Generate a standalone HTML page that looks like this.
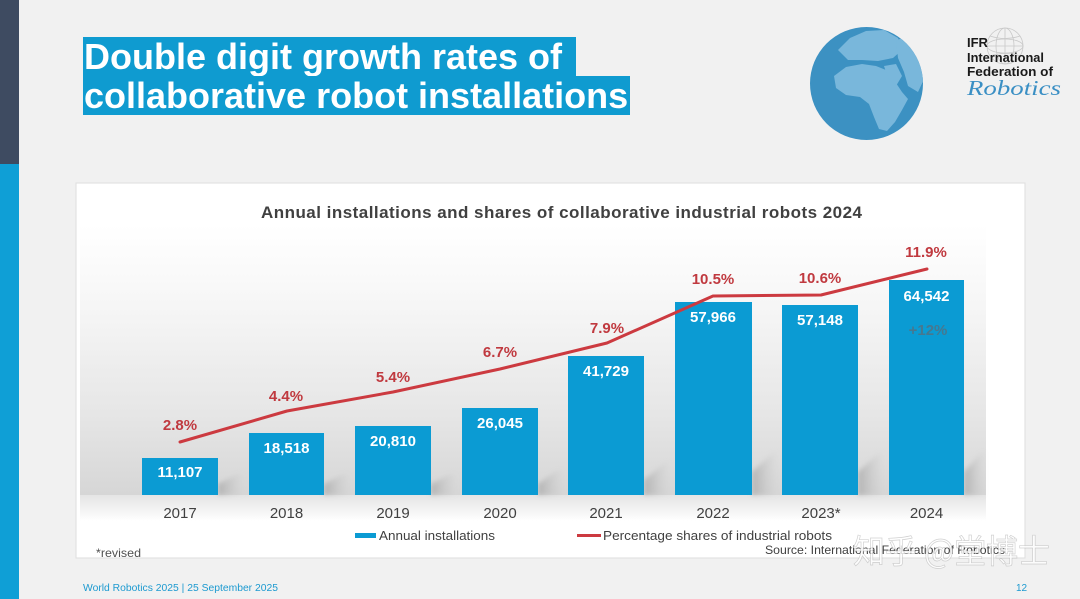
<!DOCTYPE html>
<html>
<head>
<meta charset="utf-8">
<style>
  html, body { margin:0; padding:0; }
  body { width:1080px; height:599px; overflow:hidden; background:#f1f1f1; position:relative;
         font-family:"Liberation Sans", "Noto Sans CJK SC", sans-serif; }
  .side-dark { position:absolute; left:0; top:0; width:19px; height:164px; background:#3e4b61; }
  .side-blue { position:absolute; left:0; top:164px; width:19px; height:435px; background:#0f9fd6; }
  .tl { position:absolute; left:83px; height:39px; line-height:39px; background:#0f9bd0; color:#fff;
        font-weight:bold; font-size:36px; white-space:nowrap; padding-left:1px; box-sizing:border-box; overflow:visible; }
  svg { position:absolute; left:0; top:0; }
</style>
</head>
<body>
<div class="side-dark"></div>
<div class="side-blue"></div>
<div class="tl" style="top:37px;width:493px;">Double digit growth rates of</div>
<div class="tl" style="top:76px;width:547px;">collaborative robot installations</div>

<svg width="1080" height="599" viewBox="0 0 1080 599" xmlns="http://www.w3.org/2000/svg" font-family="Liberation Sans, sans-serif">
  <defs>
    <linearGradient id="bg" x1="0" y1="0" x2="0" y2="1">
      <stop offset="0" stop-color="#ffffff"/>
      <stop offset="0.3" stop-color="#f6f6f6"/>
      <stop offset="0.7" stop-color="#e6e6e6"/>
      <stop offset="1" stop-color="#d6d6d6"/>
    </linearGradient>
    <linearGradient id="floor" x1="0" y1="0" x2="0" y2="1">
      <stop offset="0" stop-color="#e4e4e4"/>
      <stop offset="1" stop-color="#ffffff"/>
    </linearGradient>
    <linearGradient id="sh" x1="0" y1="0" x2="1" y2="0">
      <stop offset="0" stop-color="#9a9a9a" stop-opacity="0.6"/>
      <stop offset="1" stop-color="#c0c0c0" stop-opacity="0"/>
    </linearGradient>
    <filter id="blur" x="-20%" y="-20%" width="140%" height="140%"><feGaussianBlur stdDeviation="2.5"/></filter>
    <clipPath id="gclip"><circle cx="866.5" cy="83.5" r="56.5"/></clipPath>
  </defs>

  <!-- Globe -->
  <circle cx="866.5" cy="83.5" r="56.5" fill="#3c91c2"/>
  <g clip-path="url(#gclip)" fill="#79b7db">
    <path d="M834,76 L846,67 L862,64 L876,66 L886,70 L894,80 L902,92 L908,99 L902,110 L895,122 L887,131 L879,129 L874,117 L869,104 L860,97 L846,95 L836,88 Z"/>
    <path d="M838,50 L850,38 L866,31 L884,30 L898,38 L902,50 L893,58 L878,61 L862,60 L848,60 Z"/>
    <path d="M896,40 L912,36 L926,50 L926,75 L918,92 L908,86 L904,72 L898,58 Z"/>
    <path d="M884,66 L896,64 L902,76 L896,86 L888,78 Z"/>
  </g>

  <!-- IFR logo -->
  <g stroke="#c8c8c8" stroke-width="0.8" fill="none">
    <circle cx="1005" cy="46" r="18"/>
    <ellipse cx="1005" cy="46" rx="9" ry="18"/>
    <ellipse cx="1005" cy="46" rx="18" ry="7"/>
    <line x1="987" y1="46" x2="1023" y2="46"/>
    <line x1="1005" y1="28" x2="1005" y2="64"/>
    <path d="M990,36 Q1005,41 1020,36"/>
    <path d="M990,56 Q1005,51 1020,56"/>
  </g>
  <g font-weight="bold" font-size="13" fill="#1a1a1a">
    <text x="967" y="47">IFR</text>
    <text x="967" y="62" textLength="77" lengthAdjust="spacingAndGlyphs">International</text>
    <text x="967" y="76" textLength="86" lengthAdjust="spacingAndGlyphs">Federation of</text>
  </g>
  <text x="967" y="95" font-family="Liberation Serif, serif" font-style="italic" font-size="21" fill="#3a8fc4" textLength="94" lengthAdjust="spacingAndGlyphs">Robotics</text>

  <!-- Chart panel -->
  <rect x="76" y="183" width="949" height="375" fill="#ffffff" stroke="#dedede" stroke-width="1"/>
  <rect x="80" y="225" width="906" height="270" fill="url(#bg)"/>
  <rect x="80" y="495" width="906" height="26" fill="url(#floor)"/>

  <text x="561.5" y="218" text-anchor="middle" font-size="17" font-weight="bold" fill="#404040" textLength="601" lengthAdjust="spacing">Annual installations and shares of collaborative industrial robots 2024</text>

  <!-- bar shadows -->
  <g filter="url(#blur)" fill="url(#sh)">
    <polygon points="218,495 218,484 238,474 244,474 244,495"/>
    <polygon points="324,495 324,484 344,474 350,474 350,495"/>
    <polygon points="431,495 431,484 451,474 457,474 457,495"/>
    <polygon points="538,495 538,484 558,470 564,470 564,495"/>
    <polygon points="644,495 644,480 666,462 670,462 670,495"/>
    <polygon points="752,495 752,472 774,452 778,452 778,495"/>
    <polygon points="858,495 858,472 880,452 884,452 884,495"/>
    <polygon points="964,495 964,472 982,452 986,452 986,495"/>
  </g>

  <!-- bars -->
  <g fill="#0b9bd3">
    <rect x="142" y="458" width="76" height="37"/>
    <rect x="249" y="433" width="75" height="62"/>
    <rect x="355" y="426" width="76" height="69"/>
    <rect x="462" y="408" width="76" height="87"/>
    <rect x="568" y="356" width="76" height="139"/>
    <rect x="675" y="302" width="77" height="193"/>
    <rect x="782" y="305" width="76" height="190"/>
    <rect x="889" y="280" width="75" height="215"/>
  </g>

  <!-- value labels -->
  <g font-size="15" font-weight="bold" fill="#ffffff" text-anchor="middle">
    <text x="180" y="477">11,107</text>
    <text x="286.5" y="453">18,518</text>
    <text x="393" y="446">20,810</text>
    <text x="500" y="428">26,045</text>
    <text x="606" y="376">41,729</text>
    <text x="713" y="322">57,966</text>
    <text x="820" y="325">57,148</text>
    <text x="926.5" y="301">64,542</text>
  </g>
  <text x="928" y="335" font-size="15" font-weight="bold" fill="#467890" text-anchor="middle">+12%</text>

  <!-- line -->
  <polyline points="180,442 287,411 393,392 500,369 607,343 713,296 821,295 927,269" fill="none" stroke="#cc3a40" stroke-width="3" stroke-linejoin="round" stroke-linecap="round"/>

  <!-- percent labels -->
  <g font-size="15" font-weight="bold" fill="#c0393f" text-anchor="middle">
    <text x="180" y="430">2.8%</text>
    <text x="286" y="401">4.4%</text>
    <text x="393" y="382">5.4%</text>
    <text x="500" y="357">6.7%</text>
    <text x="607" y="333">7.9%</text>
    <text x="713" y="284">10.5%</text>
    <text x="820" y="283">10.6%</text>
    <text x="926" y="257">11.9%</text>
  </g>

  <!-- years -->
  <g font-size="15" fill="#404040" text-anchor="middle">
    <text x="180" y="518">2017</text>
    <text x="286.5" y="518">2018</text>
    <text x="393" y="518">2019</text>
    <text x="500" y="518">2020</text>
    <text x="606" y="518">2021</text>
    <text x="713" y="518">2022</text>
    <text x="821" y="518">2023*</text>
    <text x="926.5" y="518">2024</text>
  </g>

  <!-- legend -->
  <rect x="355" y="533" width="21" height="5" fill="#0b9bd3"/>
  <text x="379" y="540" font-size="13" fill="#404040" textLength="116" lengthAdjust="spacingAndGlyphs">Annual installations</text>
  <rect x="577" y="534" width="24" height="3" fill="#cc3a40"/>
  <text x="603" y="540" font-size="13" fill="#404040" textLength="229" lengthAdjust="spacingAndGlyphs">Percentage shares of industrial robots</text>

  <text x="96" y="557" font-size="12" fill="#505050" textLength="45" lengthAdjust="spacingAndGlyphs">*revised</text>
  <text x="765" y="554" font-size="12" fill="#404040" textLength="240" lengthAdjust="spacingAndGlyphs">Source: International Federation of Robotics</text>

  <!-- watermark -->
  <text x="853" y="563" font-family="Noto Sans CJK SC, sans-serif" font-size="33" fill="#ffffff" fill-opacity="0.8" stroke="#9a9a9a" stroke-opacity="0.45" stroke-width="0.7" textLength="197" lengthAdjust="spacingAndGlyphs">知乎 @堂博士</text>

  <!-- footer -->
  <text x="83" y="591" font-size="10" fill="#1d9ad0" textLength="195" lengthAdjust="spacingAndGlyphs">World Robotics 2025  | 25 September 2025</text>
  <text x="1016" y="591" font-size="10" fill="#1d9ad0">12</text>
</svg>
</body>
</html>
